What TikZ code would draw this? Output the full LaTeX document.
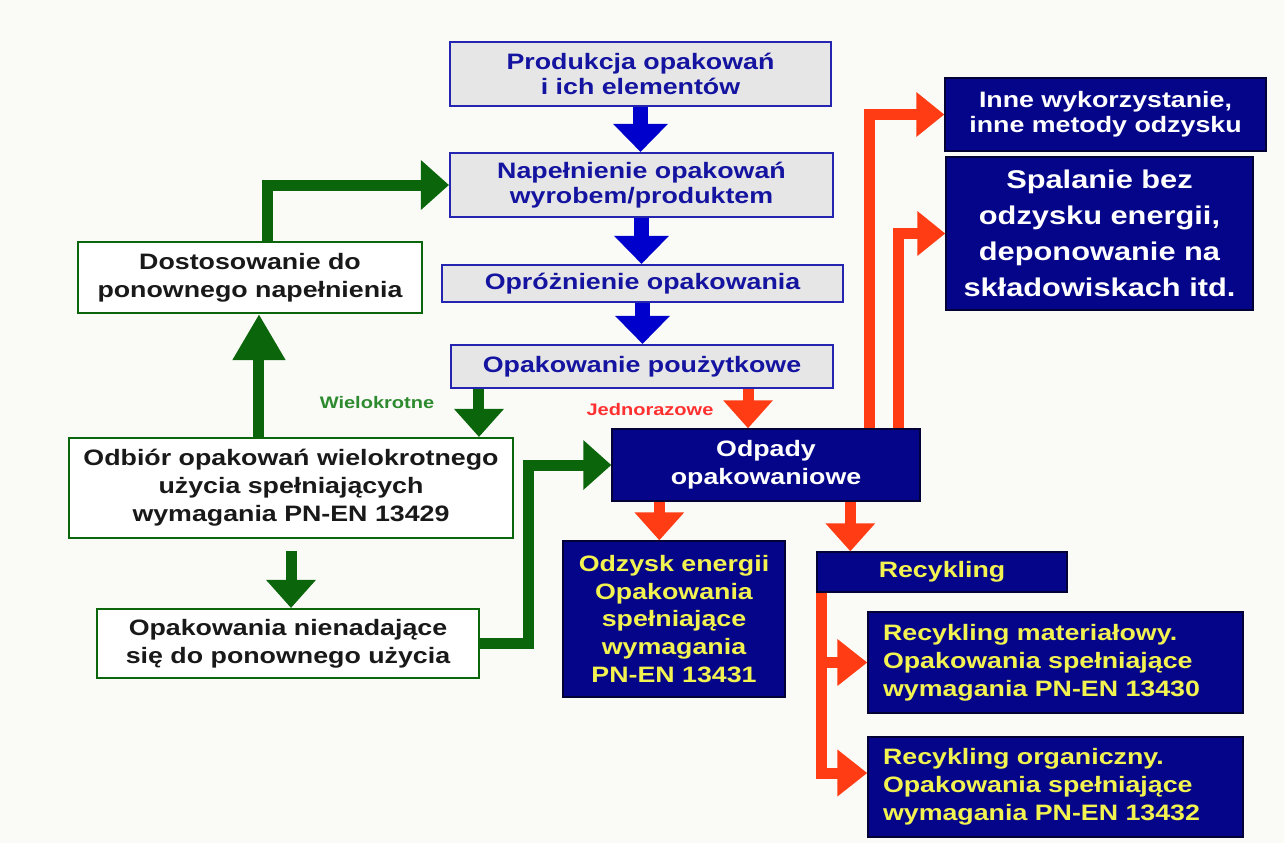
\documentclass[tikz,border=0pt]{standalone}
\usepackage{fontspec}
\setmainfont{Liberation Sans}[FakeStretch=1.2]
\usetikzlibrary{arrows.meta,calc,positioning}
\definecolor{bgcol}{HTML}{FAFBF7}
\definecolor{boxgray}{HTML}{E6E6E6}
\definecolor{boxblue}{HTML}{2424B0}
\definecolor{txtblue}{HTML}{1414A0}
\definecolor{arrblue}{HTML}{0000CC}
\definecolor{navy}{HTML}{05058A}
\definecolor{arrgreen}{HTML}{0B650B}
\definecolor{lblgreen}{HTML}{2E8A2E}
\definecolor{arrred}{HTML}{FF3C14}
\definecolor{lblred}{HTML}{FF3030}
\definecolor{txtyellow}{HTML}{F2F250}
\tikzset{
  stage/.style={draw=boxblue, line width=1.2pt, fill=boxgray, text=txtblue, align=center, inner sep=0pt,
    font=\bfseries\fontsize{12.7pt}{14.2pt}\selectfont},
  reuse/.style={draw=arrgreen, line width=1.2pt, fill=white, text=black!90, align=center, inner sep=0pt,
    font=\bfseries\fontsize{12.7pt}{15.9pt}\selectfont},
  darkbox/.style={draw=black!60!navy, line width=0.8pt, fill=navy, text=txtyellow, align=center, inner sep=0pt,
    font=\bfseries\fontsize{12.7pt}{15.9pt}\selectfont},
  bluearr/.style={draw=arrblue, line width=0.3cm, -{Triangle[length=0.56cm,width=1.06cm]}},
  greenarr/.style={draw=arrgreen, line width=0.22cm, -{Triangle[length=0.56cm,width=0.96cm]}},
  redarr/.style={draw=arrred, line width=0.22cm, -{Triangle[length=0.56cm,width=0.96cm]}},
  tag/.style={inner sep=0pt, font=\bfseries\fontsize{9.5pt}{11pt}\selectfont}
}
\begin{document}
\begin{tikzpicture}[x=0.02cm, y=-0.02cm, line join=miter]
  \fill[bgcol] (0,0) rectangle (1284,843);
  \useasboundingbox (0,0) rectangle (1284,843);

  \node[stage, minimum width=7.62cm, minimum height=1.28cm] (prod) at (640.5,74) {Produkcja opakowań\\i ich elementów};
  \node[stage, minimum width=7.66cm, minimum height=1.28cm] (fill) at (641.5,185) {Napełnienie opakowań\\wyrobem/produktem};
  \node[stage, minimum width=8.02cm, minimum height=0.74cm] (empty) at (642.5,283.5) {Opróżnienie opakowania};
  \node[stage, minimum width=7.64cm, minimum height=0.86cm] (used) at (642,366.5) {Opakowanie poużytkowe};

  \node[reuse, minimum width=6.88cm, minimum height=1.42cm] (adapt) at (250,277.5) {Dostosowanie do\\ponownego napełnienia};
  \node[reuse, minimum width=8.88cm, minimum height=2cm] (collect) at (291,488) {Odbiór opakowań wielokrotnego\\użycia spełniających\\wymagania PN-EN 13429};
  \node[reuse, minimum width=7.64cm, minimum height=1.38cm] (unfit) at (288,643.5) {Opakowania nienadające\\się do ponownego użycia};

  \node[darkbox, text=white, minimum width=6.16cm, minimum height=1.44cm] (waste) at (766,465) {Odpady\\opakowaniowe};
  \node[darkbox, minimum width=4.44cm, minimum height=3.12cm] (energy) at (674,619) {Odzysk energii\\Opakowania\\spełniające\\wymagania\\PN-EN 13431};
  \node[darkbox, minimum width=5cm, minimum height=0.8cm] (recyc) at (942,572) {Recykling};
  \node[darkbox, align=left, text width=6.9cm, inner xsep=0.3cm, minimum height=2.02cm] (material) at (1055.5,662.5) {Recykling materiałowy.\\Opakowania spełniające\\wymagania PN-EN 13430};
  \node[darkbox, align=left, text width=6.9cm, inner xsep=0.3cm, minimum height=2cm] (organic) at (1055.5,787) {Recykling organiczny.\\Opakowania spełniające\\wymagania PN-EN 13432};
  \node[darkbox, text=white, minimum width=6.42cm, minimum height=1.46cm, font=\bfseries\fontsize{12.7pt}{14.2pt}\selectfont] (other) at (1105.5,114.5) {Inne wykorzystanie,\\inne metody odzysku};
  \node[darkbox, text=white, minimum width=6.14cm, minimum height=3.06cm, font=\bfseries\fontsize{14.6pt}{20.4pt}\selectfont] (burn) at (1099.5,233.5) {Spalanie bez\\odzysku energii,\\deponowanie na\\składowiskach itd.};

  \node[tag, text=lblgreen] (multi) at (377,403) {Wielokrotne};
  \node[tag, text=lblred] (single) at (650,410) {Jednorazowe};

  \coordinate (multiout) at ($(used.south west)+(29,0)$);
  \coordinate (singleout) at ($(used.south east)+(-86,0)$);
  \coordinate (backup) at ($(collect.north west)+(191,0)$);
  \coordinate (refill) at ($(adapt.north west)+(191,0)$);
  \coordinate (toenergy) at ($(waste.south west)+(48,0)$);
  \coordinate (torecyc) at ($(waste.south west)+(239,0)$);
  \coordinate (toother) at ($(waste.north west)+(258,0)$);
  \coordinate (toburn) at ($(waste.north west)+(287,0)$);
  \coordinate (branch) at ($(recyc.south west)+(5,0)$);
  \coordinate (toorganic) at ($(organic.west)+(0,-14)$);

  \draw[bluearr] (prod.south) -- (prod.south |- fill.north);
  \draw[bluearr] (fill.south) -- (fill.south |- empty.north);
  \draw[bluearr] (empty.south) -- (empty.south |- used.north);

  \draw[greenarr] (multiout) -- (multiout |- collect.north);
  \draw[greenarr, -{Triangle[length=0.92cm,width=1cm]}] (backup) -- (backup |- adapt.south);
  \draw[greenarr] (refill) |- (fill.west);
  \draw[greenarr, shorten <=0.24cm] (collect.south) -- (collect.south |- unfit.north);
  \draw[greenarr] (unfit.east) -- ++(48,0) |- (waste.west);

  \draw[redarr] (singleout) -- (singleout |- waste.north);
  \draw[redarr] (toenergy) -- (toenergy |- energy.north);
  \draw[redarr] (torecyc) -- (torecyc |- recyc.north);
  \draw[redarr, -{Triangle[length=0.56cm,width=0.86cm]}] (toother) |- (other.west);
  \draw[redarr, -{Triangle[length=0.56cm,width=0.86cm]}] (toburn) |- (burn.west);
  \draw[redarr, -{Triangle[length=0.6cm,width=0.9cm]}] (branch) |- (material.west);
  \draw[redarr, -{Triangle[length=0.6cm,width=0.9cm]}] (branch) |- (toorganic);
\end{tikzpicture}
\end{document}
